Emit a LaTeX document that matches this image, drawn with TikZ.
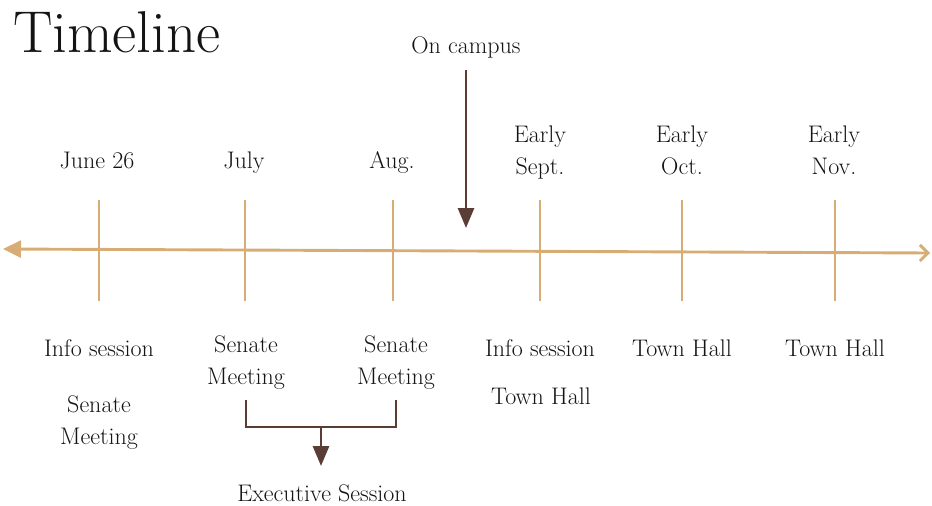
\documentclass[tikz,border=0pt]{standalone}
\usetikzlibrary{arrows.meta}
\definecolor{tan}{HTML}{D8AD75}
\definecolor{brownink}{HTML}{5A3E36}
\definecolor{inktext}{HTML}{141414}
\begin{document}
\begin{tikzpicture}[x=1pt,y=-1pt,
  every node/.style={inner sep=0pt, text=inktext, font=\fontsize{24}{31.5}\selectfont, align=center},
  tick/.style={draw=tan, line width=2.9pt},
  axisline/.style={draw=tan, line width=2.9pt},
  bracket/.style={draw=brownink, line width=2.9pt},
  pointer/.style={bracket, -{Triangle[length=20pt,width=16pt]}},
]
\useasboundingbox (0,0) rectangle (932,506);

% title
\node[anchor=base west, font=\fontsize{59}{62}\selectfont] (title) at (13,52) {Timeline};

% main axis
\coordinate (axl) at (3,249);
\coordinate (axr) at (930,253);
\draw[axisline, {Triangle[length=18pt,width=17pt]}-{Straight Barb[length=8pt,width=16pt]}] (axl) -- (axr);

% tick marks
\foreach \n/\x in {a/99,b/245,c/393,d/540,e/682,f/835}{
  \coordinate (\n top) at (\x,200);
  \coordinate (\n bot) at (\x,301);
  \draw[tick] (\n top) -- (\n bot);
}

% dates (multi-line nodes are anchored on their last baseline)
\node[anchor=base] (da) at (97,168) {June 26};
\node[anchor=base] (db) at (244,168) {July};
\node[anchor=base] (dc) at (392,168) {Aug.};
\node[anchor=base] (dd) at (540,174) {Early\\Sept.};
\node[anchor=base] (de) at (682,174) {Early\\Oct.};
\node[anchor=base] (df) at (834,174) {Early\\Nov.};

% events
\node[anchor=base] (ea1) at (99,356) {Info session};
\node[anchor=base] (ea2) at (99,444) {Senate\\Meeting};
\node[anchor=base] (eb) at (246,384) {Senate\\Meeting};
\node[anchor=base] (ec) at (396,384) {Senate\\Meeting};
\node[anchor=base] (ed1) at (540,356) {Info session};
\node[anchor=base] (ed2) at (541,404) {Town Hall};
\node[anchor=base] (ee) at (682,356) {Town Hall};
\node[anchor=base] (ef) at (835,356) {Town Hall};

% on campus marker
\node[anchor=base] (campus) at (466,53) {On campus};
\coordinate (campustop) at (466,70);
\coordinate (campusend) at (466,228);
\draw[pointer] (campustop) -- (campusend);

% executive session bracket
\node[anchor=base] (exec) at (322,501) {Executive Session};
\coordinate (bl) at (246,400);
\coordinate (br) at (396,400);
\coordinate (bm) at (321,427);
\coordinate (bend) at (321,466);
\draw[bracket] (bl) |- (br |- bm) -- (br);
\draw[pointer] (bm) -- (bend);
\end{tikzpicture}
\end{document}
